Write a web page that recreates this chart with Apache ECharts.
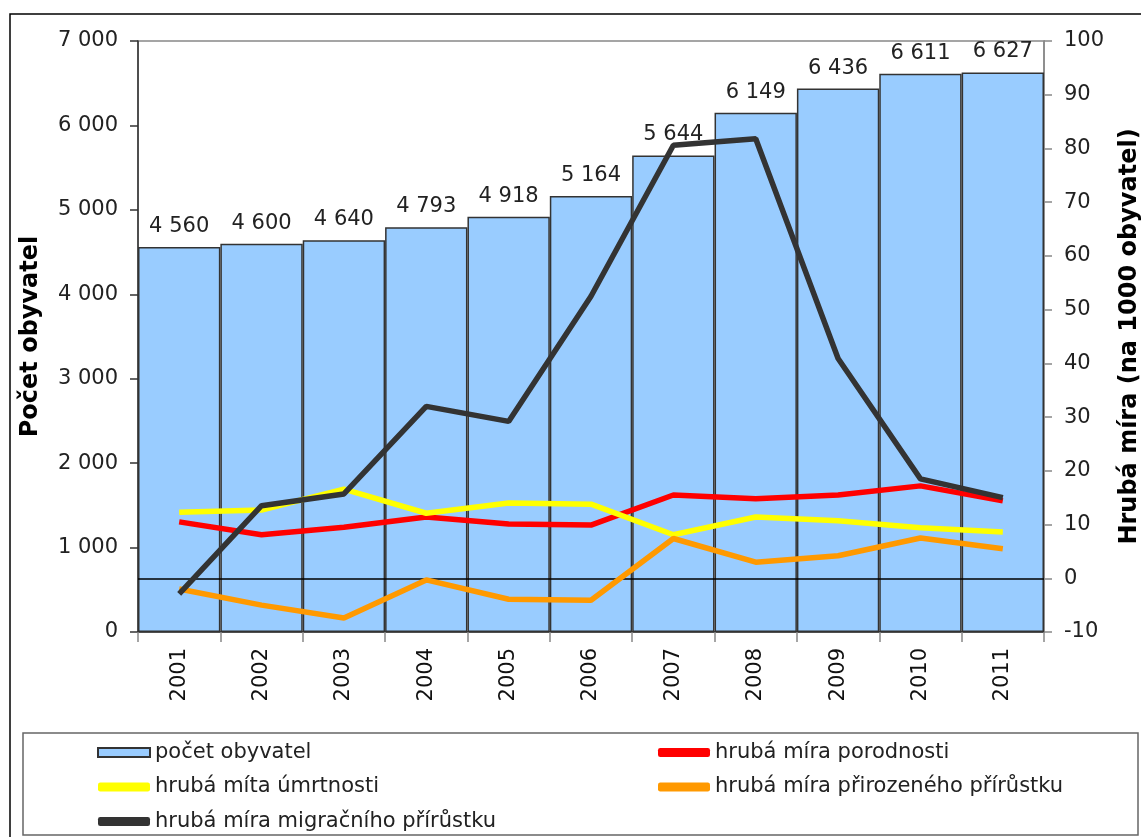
<!DOCTYPE html>
<html>
<head>
<meta charset="utf-8">
<script src="https://cdn.jsdelivr.net/npm/echarts@6/dist/echarts.min.js"></script>
<style>
  html, body { margin: 0; padding: 0; background: #fff; }
  #container { width: 1141px; height: 837px; }
</style>
</head>
<body>
<div id="container"></div>
<script>
var years = ['2001', '2002', '2003', '2004', '2005', '2006', '2007', '2008', '2009', '2010', '2011'];
var pocetObyvatel = [4560, 4600, 4640, 4793, 4918, 5164, 5644, 6149, 6436, 6611, 6627];
var porodnost = [10.5, 8.1, 9.5, 11.4, 10.1, 9.9, 15.5, 14.8, 15.5, 17.2, 14.4];
var umrtnost = [12.3, 12.7, 16.6, 12.1, 14.0, 13.8, 8.1, 11.4, 10.7, 9.4, 8.6];
var prirozeny = [-2.0, -5.0, -7.4, -0.3, -3.9, -4.1, 7.4, 3.0, 4.2, 7.5, 5.5];
var migracni = [-2.9, 13.5, 15.7, 32.0, 29.2, 52.5, 80.6, 81.8, 40.9, 18.5, 15.0];

var font = 'DejaVu Sans';
var dom = document.getElementById('container');
var myChart = echarts.init(dom);

function thousands(v) {
    return String(v).replace(/\B(?=(\d{3})+(?!\d))/g, ' ');
}

function lineSeries(name, data, color) {
    return {
        name: name,
        type: 'line',
        yAxisIndex: 1,
        data: data,
        symbol: 'none',
        lineStyle: { color: color, width: 5.5 },
        itemStyle: { color: color },
        z: 5
    };
}

var migr = lineSeries('hrubá míra migračního přírůstku', migracni, '#333333');
migr.markLine = {
    silent: true,
    symbol: 'none',
    label: { show: false },
    lineStyle: { color: '#000', width: 1.5, type: 'solid' },
    data: [{ yAxis: 0 }]
};

var legendText = { fontFamily: font, fontSize: 21, color: '#222', lineHeight: 20 };

var option = {
    animation: false,
    textStyle: { fontFamily: font },
    graphic: [{
        type: 'rect',
        shape: { x: 10, y: 14, width: 1160, height: 860 },
        style: { fill: 'none', stroke: '#000', lineWidth: 1.5 },
        silent: true
    }, {
        type: 'rect',
        shape: { x: 23, y: 733, width: 1115, height: 102 },
        style: { fill: 'none', stroke: '#666', lineWidth: 1.5 },
        silent: true
    }],
    grid: {
        left: 138, right: 97, top: 41, bottom: 205,
        outerBoundsMode: 'none',
        containLabel: false,
        show: true, borderColor: '#888', borderWidth: 1.5,
        backgroundColor: 'transparent'
    },
    legend: [{
        orient: 'vertical',
        left: 97, top: 742, height: 95, padding: 0,
        itemWidth: 52, itemHeight: 9, itemGap: 13.5,
        textStyle: legendText,
        data: [
            { name: 'počet obyvatel', icon: 'rect' },
            { name: 'hrubá míta úmrtnosti', icon: 'roundRect' },
            { name: 'hrubá míra migračního přírůstku', icon: 'roundRect' }
        ]
    }, {
        orient: 'vertical',
        left: 658, top: 742, height: 95, padding: 0,
        itemWidth: 52, itemHeight: 9, itemGap: 13.5,
        textStyle: legendText,
        data: [
            { name: 'hrubá míra porodnosti', icon: 'roundRect' },
            { name: 'hrubá míra přirozeného přírůstku', icon: 'roundRect' }
        ]
    }],
    xAxis: {
        type: 'category',
        data: years,
        boundaryGap: true,
        axisLine: { lineStyle: { color: '#333', width: 1.5 } },
        axisTick: { show: true, length: 10, lineStyle: { color: '#888', width: 1.5 } },
        axisLabel: { rotate: 90, fontSize: 21, color: '#111', margin: 16, fontFamily: font }
    },
    yAxis: [{
        type: 'value',
        min: 0, max: 7000, interval: 1000,
        name: 'Počet obyvatel',
        nameLocation: 'middle',
        nameRotate: 90,
        nameGap: 95,
        nameTextStyle: { fontSize: 24, fontWeight: 'bold', color: '#000', fontFamily: font },
        axisLine: { show: true, lineStyle: { color: '#333', width: 1.5 } },
        axisTick: { show: true, length: 8, lineStyle: { color: '#333', width: 1.5 } },
        splitLine: { show: false },
        axisLabel: { fontSize: 21, color: '#222', margin: 20, fontFamily: font, formatter: thousands }
    }, {
        type: 'value',
        min: -10, max: 100, interval: 10,
        position: 'right',
        name: 'Hrubá míra (na 1000 obyvatel)',
        nameLocation: 'middle',
        nameRotate: 90,
        nameGap: 74,
        nameTextStyle: { fontSize: 24, fontWeight: 'bold', color: '#000', fontFamily: font },
        axisLine: { show: true, lineStyle: { color: '#888', width: 1.5 } },
        axisTick: { show: true, length: 8, lineStyle: { color: '#888', width: 1.5 } },
        splitLine: { show: false },
        axisLabel: { fontSize: 21, color: '#222', margin: 20, fontFamily: font }
    }],
    series: [{
        name: 'počet obyvatel',
        type: 'bar',
        data: pocetObyvatel,
        barCategoryGap: 0,
        itemStyle: { color: '#99CCFF', borderColor: '#333', borderWidth: 1.5 },
        label: {
            show: true, position: 'top', distance: 10,
            fontSize: 21, color: '#222', fontFamily: font,
            formatter: function(p) { return thousands(p.value); }
        },
        z: 2
    },
        lineSeries('hrubá míra porodnosti', porodnost, '#FF0000'),
        lineSeries('hrubá míta úmrtnosti', umrtnost, '#FFFF00'),
        lineSeries('hrubá míra přirozeného přírůstku', prirozeny, '#FF9900'),
        migr
    ]
};

myChart.setOption(option, true);
</script>
</body>
</html>
